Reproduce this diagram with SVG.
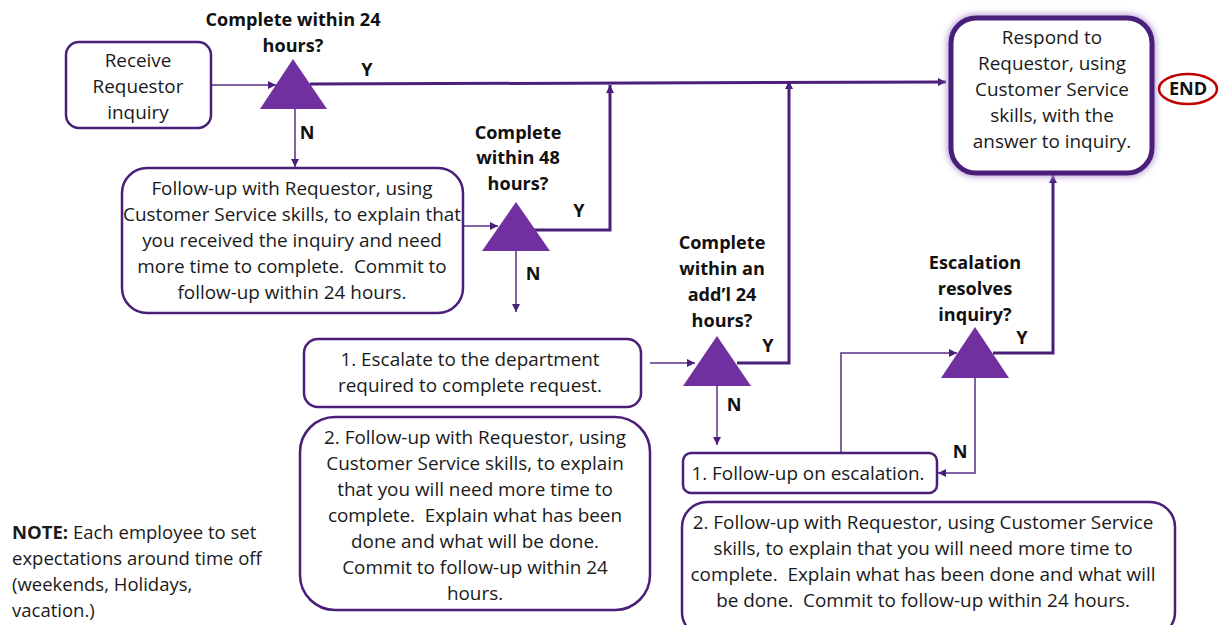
<svg xmlns="http://www.w3.org/2000/svg" width="1220" height="625" viewBox="0 0 1220 625">
<style>
.box{fill:#fff;stroke:#4a1f7a;stroke-width:2.5}
.tri{fill:#7030a0}
.t{font-family:"Open Sans","Liberation Sans",sans-serif;font-size:18.9px;fill:#1a1a1a;text-anchor:middle;white-space:pre}
.b{font-family:"Open Sans","Liberation Sans",sans-serif;font-size:18.1px;font-weight:bold;fill:#111;text-anchor:middle}
.thick{fill:none;stroke:#4a1f7a;stroke-width:3}
.thin{fill:none;stroke:#5a2f8a;stroke-width:1.5}
</style>
<defs>
<marker id="ah" viewBox="0 0 10 10" refX="10" refY="5" markerWidth="8" markerHeight="8" markerUnits="userSpaceOnUse" orient="auto">
<path d="M0,0 L10,5 L0,10 z" fill="#4a1f7a"/>
</marker>
<filter id="glow" x="-20%" y="-20%" width="140%" height="140%">
<feGaussianBlur stdDeviation="3"/>
</filter>
</defs>
<rect width="1220" height="625" fill="#fff"/>

<g id="connectors">
<line class="thin" x1="211" y1="85" x2="276" y2="85" marker-end="url(#ah)"/>
<path class="thick" d="M310,84 L946,82" marker-end="url(#ah)"/>
<line class="thin" x1="295" y1="109" x2="295" y2="167" marker-end="url(#ah)"/>
<line class="thin" x1="463" y1="226" x2="498" y2="226" marker-end="url(#ah)"/>
<path class="thick" d="M533,230 L610,230 L610,85" marker-end="url(#ah)"/>
<line class="thin" x1="516" y1="251" x2="516" y2="312" marker-end="url(#ah)"/>
<line class="thin" x1="650" y1="363" x2="695" y2="363" marker-end="url(#ah)"/>
<path class="thick" d="M737,363 L789,363 L789,81" marker-end="url(#ah)"/>
<line class="thin" x1="717" y1="386" x2="717" y2="445" marker-end="url(#ah)"/>
<path class="thick" d="M993,353 L1053,353 L1053,175" marker-end="url(#ah)"/>
<path class="thin" d="M841,453 L841,353 L957,353" marker-end="url(#ah)"/>
<path class="thin" d="M975,378 L975,473 L938,473" marker-end="url(#ah)"/>
</g>

<g id="receive">
<rect class="box" x="66" y="42" width="145" height="86" rx="13"/>
<text class="t" x="138" y="67">Receive</text>
<text class="t" x="138" y="93">Requestor</text>
<text class="t" x="138" y="119">inquiry</text>
</g>

<g id="decision1">
<polygon class="tri" points="293,59 327,109 260,109"/>
<text class="b" x="293" y="26">Complete within 24</text>
<text class="b" x="293" y="52">hours?</text>
<text class="b" x="367" y="76">Y</text>
<text class="b" x="307" y="139">N</text>
</g>

<g id="followup1">
<rect class="box" x="122" y="168" width="341" height="145" rx="25"/>
<text class="t" x="292" y="195">Follow-up with Requestor, using</text>
<text class="t" x="292" y="221">Customer Service skills, to explain that</text>
<text class="t" x="292" y="247">you received the inquiry and need</text>
<text class="t" x="292" y="273">more time to complete.  Commit to</text>
<text class="t" x="292" y="299">follow-up within 24 hours.</text>
</g>

<g id="decision2">
<polygon class="tri" points="516,202 550,251 482,251"/>
<text class="b" x="518" y="139">Complete</text>
<text class="b" x="518" y="164">within 48</text>
<text class="b" x="518" y="190">hours?</text>
<text class="b" x="579" y="217">Y</text>
<text class="b" x="533" y="280">N</text>
</g>

<g id="escalate">
<rect class="box" x="304" y="339" width="337" height="68" rx="14"/>
<text class="t" x="470" y="366">1. Escalate to the department</text>
<text class="t" x="470" y="392">required to complete request.</text>
</g>

<g id="followup2">
<rect class="box" x="300" y="417" width="350" height="193" rx="35"/>
<text class="t" x="475" y="444">2. Follow-up with Requestor, using</text>
<text class="t" x="475" y="470">Customer Service skills, to explain</text>
<text class="t" x="475" y="496">that you will need more time to</text>
<text class="t" x="475" y="522">complete.  Explain what has been</text>
<text class="t" x="475" y="548">done and what will be done.</text>
<text class="t" x="475" y="574">Commit to follow-up within 24</text>
<text class="t" x="475" y="600">hours.</text>
</g>

<g id="decision3">
<polygon class="tri" points="717,336 751,386 683,386"/>
<text class="b" x="722" y="249">Complete</text>
<text class="b" x="722" y="275">within an</text>
<text class="b" x="722" y="301">add’l 24</text>
<text class="b" x="722" y="327">hours?</text>
<text class="b" x="768" y="352">Y</text>
<text class="b" x="734" y="411">N</text>
</g>

<g id="followup-escalation">
<rect class="box" x="683" y="453" width="254" height="40" rx="8"/>
<text class="t" x="808" y="480">1. Follow-up on escalation.</text>
</g>

<g id="followup3">
<rect class="box" x="682" y="502" width="493" height="135" rx="25"/>
<text class="t" x="923" y="529">2. Follow-up with Requestor, using Customer Service</text>
<text class="t" x="923" y="555">skills, to explain that you will need more time to</text>
<text class="t" x="923" y="581">complete.  Explain what has been done and what will</text>
<text class="t" x="923" y="607">be done.  Commit to follow-up within 24 hours.</text>
</g>

<g id="decision4">
<polygon class="tri" points="975,327 1009,378 941,378"/>
<text class="b" x="975" y="269">Escalation</text>
<text class="b" x="975" y="295">resolves</text>
<text class="b" x="975" y="321">inquiry?</text>
<text class="b" x="1022" y="344">Y</text>
<text class="b" x="960" y="458">N</text>
</g>

<g id="respond">
<rect x="951" y="18" width="201" height="155" rx="25" fill="none" stroke="#b9a0d8" stroke-width="8" filter="url(#glow)"/>
<rect x="951" y="18" width="201" height="155" rx="25" fill="#fff" stroke="#4a1f7a" stroke-width="5"/>
<text class="t" x="1052" y="44">Respond to</text>
<text class="t" x="1052" y="70">Requestor, using</text>
<text class="t" x="1052" y="96">Customer Service</text>
<text class="t" x="1052" y="122">skills, with the</text>
<text class="t" x="1052" y="148">answer to inquiry.</text>
</g>

<g id="end">
<ellipse cx="1188" cy="89" rx="29" ry="15" fill="#fff" stroke="#c00000" stroke-width="2.5"/>
<text class="b" x="1188" y="95">END</text>
</g>

<g id="note">
<text font-family="'Open Sans','Liberation Sans',sans-serif" font-size="18.5" fill="#1a1a1a"><tspan x="12" y="539"><tspan font-weight="bold">NOTE:</tspan> Each employee to set</tspan><tspan x="12" y="565">expectations around time off</tspan><tspan x="12" y="591">(weekends, Holidays,</tspan><tspan x="12" y="617">vacation.)</tspan></text>
</g>
</svg>
